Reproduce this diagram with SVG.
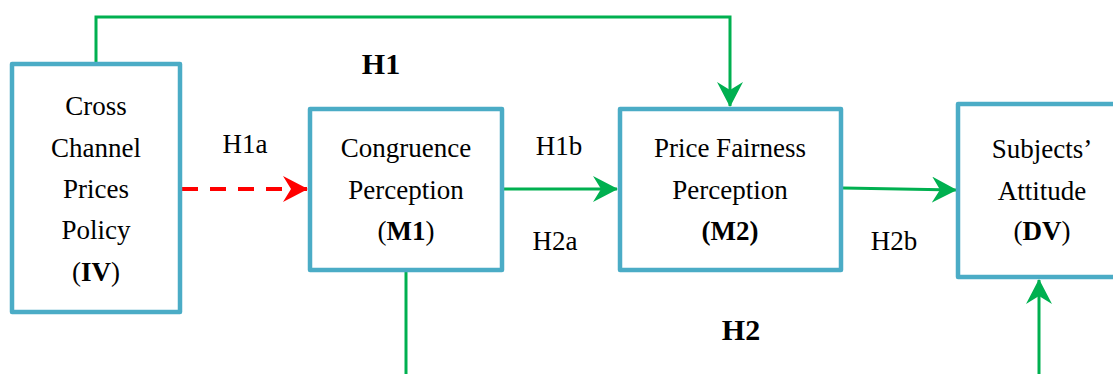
<svg xmlns="http://www.w3.org/2000/svg" width="1113" height="374" viewBox="0 0 1113 374">
<style>
.box{fill:#fff;stroke:#4BACC6;stroke-width:4.5;stroke-linejoin:round}
.t{font-family:"Liberation Serif","Times New Roman",serif;font-size:27px;fill:#000;text-anchor:middle}
.b{font-weight:bold}
.hb{font-family:"Liberation Serif","Times New Roman",serif;font-size:30px;font-weight:bold;fill:#000;text-anchor:middle}
.g{fill:none;stroke:#00B050;stroke-width:3}
.r{fill:none;stroke:#FF0000;stroke-width:4;stroke-dasharray:16 12}
</style>
<defs>
<marker id="ag" markerUnits="userSpaceOnUse" viewBox="0 0 25 26" refX="24" refY="13" markerWidth="25" markerHeight="26" orient="auto">
<path d="M0,0 L25,13 L0,26 L8,13 Z" fill="#00B050"/>
</marker>
<marker id="ar" markerUnits="userSpaceOnUse" viewBox="0 0 25 26" refX="24" refY="13" markerWidth="25" markerHeight="26" orient="auto">
<path d="M0,0 L25,13 L0,26 L8,13 Z" fill="#FF0000"/>
</marker>
</defs>
<g id="connectors">
<path class="g" d="M96,62 V17 H730 V106" marker-end="url(#ag)"/>
<path class="r" d="M182,189 H307" marker-end="url(#ar)"/>
<path class="g" d="M504,189 H617" marker-end="url(#ag)"/>
<path class="g" d="M843,188 L956,190" marker-end="url(#ag)"/>
<path class="g" d="M406,272 V374"/>
<path class="g" d="M1039,374 V280" marker-end="url(#ag)"/>
</g>
<g id="labels">
<text class="hb" x="381" y="74">H1</text>
<text class="t" x="245" y="153">H1a</text>
<text class="t" x="559" y="155">H1b</text>
<text class="t" x="555" y="250">H2a</text>
<text class="t" x="894" y="250">H2b</text>
<text class="hb" x="741" y="340">H2</text>
</g>
<g id="iv">
<rect class="box" x="12" y="64" width="168" height="248"/>
<text class="t" x="96" y="115">Cross</text>
<text class="t" x="96" y="157">Channel</text>
<text class="t" x="96" y="198">Prices</text>
<text class="t" x="96" y="239">Policy</text>
<text class="t" x="96" y="281">(<tspan class="b">IV</tspan>)</text>
</g>
<g id="m1">
<rect class="box" x="310" y="109" width="192" height="161"/>
<text class="t" x="406" y="157">Congruence</text>
<text class="t" x="406" y="199">Perception</text>
<text class="t" x="406" y="240">(<tspan class="b">M1</tspan>)</text>
</g>
<g id="m2">
<rect class="box" x="620" y="109" width="221" height="161"/>
<text class="t" x="730" y="157">Price Fairness</text>
<text class="t" x="730" y="199">Perception</text>
<text class="t b" x="730" y="240">(M2)</text>
</g>
<g id="dv">
<rect class="box" x="958" y="104" width="170" height="173"/>
<text class="t" x="1042" y="158">Subjects’</text>
<text class="t" x="1042" y="200">Attitude</text>
<text class="t" x="1042" y="240">(<tspan class="b">DV</tspan>)</text>
</g>
</svg>
